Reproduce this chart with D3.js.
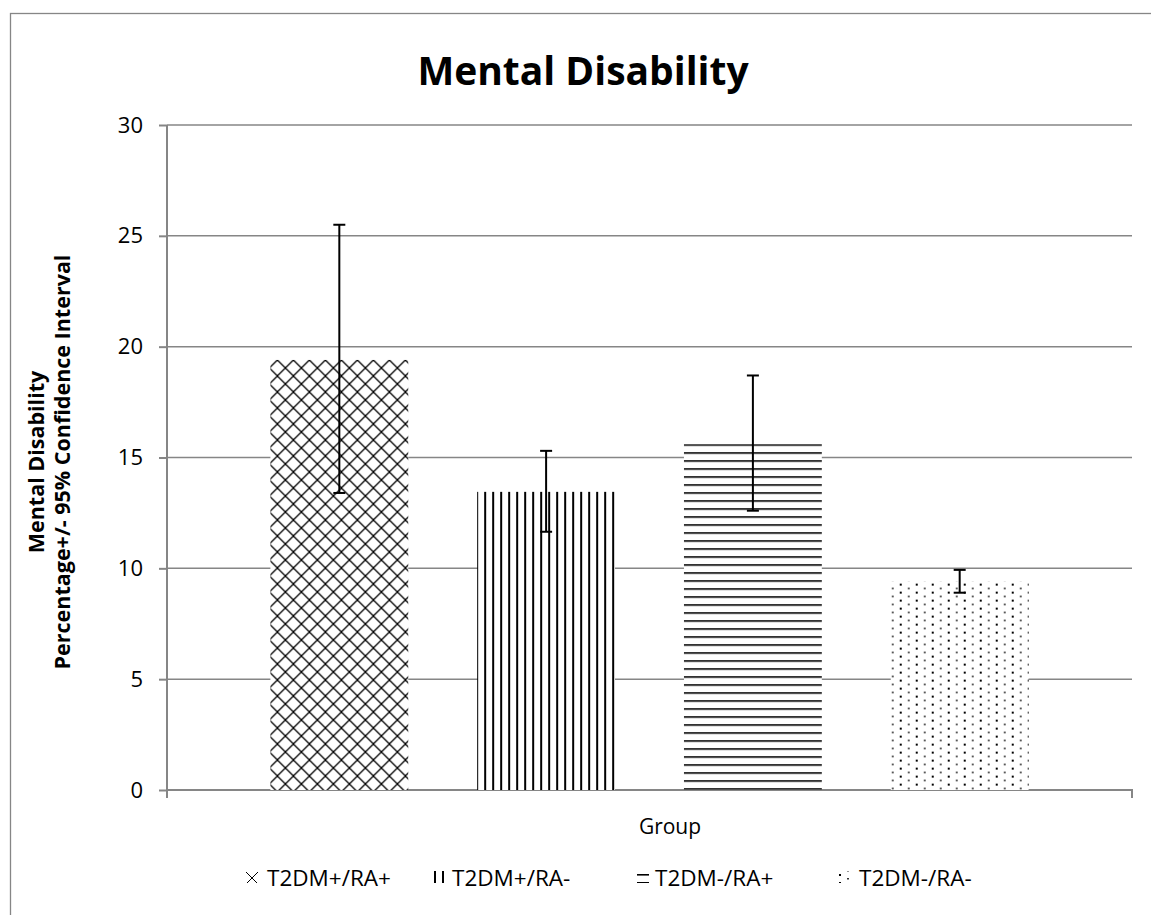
<!DOCTYPE html>
<html>
<head>
<meta charset="utf-8">
<script src="https://cdn.jsdelivr.net/npm/d3@7"></script>
<style>
  html, body { margin: 0; padding: 0; background: #fff; }
  svg { display: block; }
  text { font-family: "Open Sans", "Noto Sans", sans-serif; fill: #000; }
</style>
</head>
<body>
<svg id="chart" width="1151" height="915"></svg>
<script>
// ---- data ----
const groups = ["T2DM+/RA+", "T2DM+/RA-", "T2DM-/RA+", "T2DM-/RA-"];
const values = [19.4, 13.45, 15.6, 9.4];
const ciLower = [13.4, 11.65, 12.6, 8.9];
const ciUpper = [25.5, 15.3, 18.7, 9.93];
const yTicks = [0, 5, 10, 15, 20, 25, 30];
const category = ["Group"];
const patternKinds = ["diamond", "vert", "horiz", "dots"];

const svg = d3.select("#chart");
const plot = { left: 167, right: 1132, top: 125, bottom: 790 };

// ---- scales ----
const y = d3.scaleLinear().domain([0, 30]).range([plot.bottom, plot.top]);
const x0 = d3.scaleBand().domain(category).range([plot.left, plot.right]).padding(0);
const x1 = d3.scaleBand().domain(groups).range([0, x0.bandwidth()])
  .paddingInner(1 / 3).paddingOuter(0.5);

// ---- patterns ----
const defs = svg.append("defs");
function makePattern(id, kind, ox, oy, sw) {
  if (kind === "diamond") {
    const p = defs.append("pattern").attr("id", id).attr("patternUnits", "userSpaceOnUse")
      .attr("width", 16).attr("height", 16).attr("x", ox).attr("y", oy);
    p.append("rect").attr("width", 16).attr("height", 16).attr("fill", "#fff");
    p.append("path").attr("d", "M0,0 L16,16 M16,0 L0,16 M-8,8 L8,24 M8,-8 L24,8 M-8,8 L8,-8 M8,24 L24,8")
      .attr("stroke", "#000").attr("stroke-width", sw || 1.25).attr("fill", "none");
  } else if (kind === "vert") {
    const p = defs.append("pattern").attr("id", id).attr("patternUnits", "userSpaceOnUse")
      .attr("width", 8).attr("height", 8).attr("x", ox).attr("y", oy);
    p.append("rect").attr("width", 8).attr("height", 8).attr("fill", "#fff");
    p.append("rect").attr("x", 0).attr("width", 2).attr("height", 8).attr("fill", "#000");
  } else if (kind === "horiz") {
    const p = defs.append("pattern").attr("id", id).attr("patternUnits", "userSpaceOnUse")
      .attr("width", 8).attr("height", 8).attr("x", ox).attr("y", oy);
    p.append("rect").attr("width", 8).attr("height", 8).attr("fill", "#fff");
    p.append("rect").attr("y", 0).attr("width", 8).attr("height", 1.6).attr("fill", "#000");
  } else {
    const p = defs.append("pattern").attr("id", id).attr("patternUnits", "userSpaceOnUse")
      .attr("width", 16).attr("height", 8).attr("x", ox).attr("y", oy);
    p.append("rect").attr("width", 16).attr("height", 8).attr("fill", "#fff");
    p.append("rect").attr("x", 2).attr("y", 2).attr("width", 2).attr("height", 2).attr("fill", "#000");
    p.append("rect").attr("x", 10).attr("y", 6).attr("width", 2).attr("height", 1.5).attr("fill", "#333");
  }
}
groups.forEach((d, i) => {
  makePattern("bar" + i, patternKinds[i], x0("Group") + x1(d), y(values[i]));
});

// ---- outer border ----
svg.append("rect").attr("x", 10.5).attr("y", 13.5).attr("width", 1160).attr("height", 940)
  .attr("fill", "none").attr("stroke", "#868686").attr("stroke-width", 1.3);

// ---- gridlines ----
svg.append("g").selectAll("line").data(yTicks.filter(d => d > 0)).join("line")
  .attr("x1", plot.left).attr("x2", plot.right)
  .attr("y1", d => y(d)).attr("y2", d => y(d))
  .attr("stroke", "#868686").attr("stroke-width", 1.5);

// ---- y axis ----
const yAxis = svg.append("g").attr("transform", `translate(${plot.left},0)`)
  .call(d3.axisLeft(y).tickValues(yTicks).tickSize(8).tickPadding(16).tickFormat(d3.format("d")));
yAxis.select(".domain").attr("stroke", "#868686").attr("stroke-width", 2)
  .attr("d", `M0,${plot.top}V${plot.bottom + 8}`);
yAxis.selectAll(".tick line").attr("stroke", "#868686").attr("stroke-width", 2);
yAxis.selectAll(".tick text").attr("font-size", 22).attr("fill", "#000");

// ---- x axis ----
const xAxis = svg.append("g").attr("transform", `translate(0,${plot.bottom})`)
  .call(d3.axisBottom(x0).tickSize(0).tickFormat(""));
xAxis.select(".domain").attr("stroke", "#868686").attr("stroke-width", 2)
  .attr("d", `M${plot.left},0H${plot.right}V8`);

// ---- bars ----
const g = svg.append("g").attr("transform", `translate(${x0("Group")},0)`);
g.selectAll("rect.bar").data(groups).join("rect").attr("class", "bar")
  .attr("x", d => x1(d)).attr("width", x1.bandwidth())
  .attr("y", (d, i) => y(values[i])).attr("height", (d, i) => y(0) - y(values[i]))
  .attr("fill", (d, i) => `url(#bar${i})`);

// ---- error bars ----
const eb = g.selectAll("g.err").data(groups).join("g").attr("class", "err")
  .attr("transform", d => `translate(${x1(d) + x1.bandwidth() / 2},0)`);
eb.append("line").attr("x1", 0).attr("x2", 0)
  .attr("y1", (d, i) => y(ciLower[i])).attr("y2", (d, i) => y(ciUpper[i]))
  .attr("stroke", "#000").attr("stroke-width", 2);
eb.append("line").attr("x1", -6).attr("x2", 6)
  .attr("y1", (d, i) => y(ciUpper[i])).attr("y2", (d, i) => y(ciUpper[i]))
  .attr("stroke", "#000").attr("stroke-width", 2);
eb.append("line").attr("x1", -6).attr("x2", 6)
  .attr("y1", (d, i) => y(ciLower[i])).attr("y2", (d, i) => y(ciLower[i]))
  .attr("stroke", "#000").attr("stroke-width", 2);

// ---- title ----
svg.append("text").attr("x", 583).attr("y", 85).attr("text-anchor", "middle")
  .attr("font-size", 39).attr("font-weight", "bold").text("Mental Disability");

// ---- axis titles ----
const yt = svg.append("text").attr("transform", `translate(0,462) rotate(-90)`)
  .attr("text-anchor", "middle").attr("font-size", 21.5).attr("font-weight", "bold");
yt.append("tspan").attr("x", 0).attr("y", 44).text("Mental Disability");
yt.append("tspan").attr("x", 0).attr("y", 70).text("Percentage+/- 95% Confidence Interval");

svg.append("text").attr("x", 670).attr("y", 834).attr("text-anchor", "middle")
  .attr("font-size", 21).text("Group");

// ---- legend ----
const legendSym = [246, 433, 637, 837];
const legendTxt = [267, 452, 655, 859];
const legendOffX = [-2, 1, 0, 0];
const legendOffY = [-2, 0, 2, 0];
const lg = svg.append("g");
groups.forEach((d, i) => {
  makePattern("leg" + i, patternKinds[i], legendSym[i] + legendOffX[i], 872 + legendOffY[i], 1);
  lg.append("rect").attr("x", legendSym[i]).attr("y", 871).attr("width", 12).attr("height", 12)
    .attr("fill", `url(#leg${i})`);
  lg.append("text").attr("x", legendTxt[i]).attr("y", 886).attr("font-size", 22.5).text(d);
});
</script>
</body>
</html>
